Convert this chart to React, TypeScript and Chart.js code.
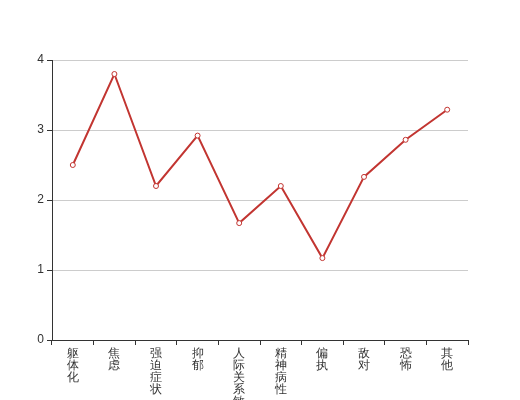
import React, { useEffect, useRef } from "react";
import { Chart, registerables } from "chart.js";

Chart.register(...registerables);

const categories = ["躯体化", "焦虑", "强迫症状", "抑郁", "人际关系敏感", "精神病性", "偏执", "敌对", "恐怖", "其他"];
const values = [2.5, 3.8, 2.2, 2.92, 1.67, 2.2, 1.17, 2.33, 2.86, 3.29];
const yTicks = [0, 1, 2, 3, 4];

export default function App() {
  const ref = useRef<HTMLCanvasElement | null>(null);
  useEffect(() => {
    if (!ref.current) return;
    const chart = new Chart(ref.current, {
      type: "line",
      data: {
        labels: categories.map((c) => c.split("")),
        datasets: [
          {
            data: values,
            borderColor: "#c23531",
            borderWidth: 2,
            backgroundColor: "#ffffff",
            pointBackgroundColor: "#ffffff",
            pointBorderColor: "#c23531",
            pointBorderWidth: 1,
            pointRadius: 2.5,
            tension: 0,
            fill: false,
          },
        ],
      },
      options: {
        animation: false,
        responsive: false,
        maintainAspectRatio: false,
        plugins: { legend: { display: false }, tooltip: { enabled: false } },
        layout: { padding: { left: 0, right: 52, top: 60, bottom: 0 } },
        scales: {
          x: {
            type: "category",
            offset: true,
            grid: {
              offset: true,
              drawOnChartArea: false,
              drawTicks: true,
              tickLength: 5,
              tickColor: "#333",
            },
            border: { display: true, color: "#333", width: 1 },
            ticks: {
              color: "#333",
              font: { family: "sans-serif", size: 12, lineHeight: 1 },
              maxRotation: 0,
              minRotation: 0,
              autoSkip: false,
              padding: 3,
            },
            afterFit: (s: any) => {
              s.height = 60;
            },
          },
          y: {
            min: 0,
            max: 4,
            afterBuildTicks: (s: any) => {
              s.ticks = yTicks.map((v) => ({ value: v }));
            },
            grid: {
              color: "#cccccc",
              drawTicks: true,
              tickLength: 5,
              tickColor: "#333",
            },
            border: { display: true, color: "#333", width: 1 },
            ticks: {
              color: "#333",
              font: { family: "sans-serif", size: 12 },
              padding: 3,
            },
            afterFit: (s: any) => {
              s.width = 52;
            },
          },
        },
      },
    });
    return () => chart.destroy();
  }, []);
  return (
    <div style={{ position: "absolute", left: 0, top: 0, width: 520, height: 400, overflow: "hidden" }}>
      <canvas ref={ref} width={520} height={400} style={{ width: 520, height: 400 }} />
    </div>
  );
}
